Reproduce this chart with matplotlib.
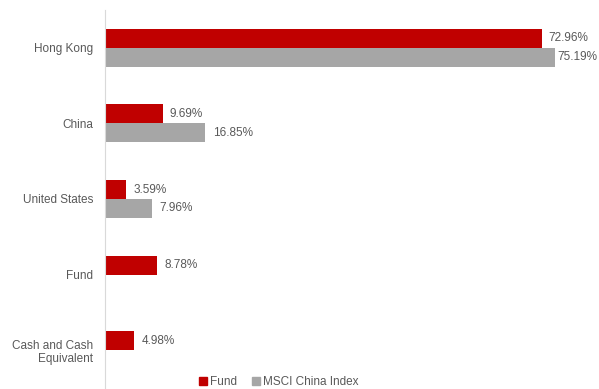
import numpy as np
import matplotlib.pyplot as plt
from matplotlib.patches import Patch

plt.rcParams['font.family'] = ['Liberation Sans', 'DejaVu Sans']

categories = ['Hong Kong', 'China', 'United States', 'Fund', 'Cash and Cash\nEquivalent']
fund = [72.96, 9.69, 3.59, 8.78, 4.98]
msci = [75.19, 16.85, 7.96, None, None]

RED = '#C00000'
GRAY = '#A6A6A6'
TEXT = '#595959'
FS = 8.5
XMAX = (599 - 104.5) / 5.99


def value_label(ax, v, yi):
    # keep the label inside the figure, like the reference does
    if v + 1.2 + 7.2 > XMAX:
        ax.text(XMAX - 0.3, yi, f'{v:.2f}%', va='center', ha='right',
                fontsize=FS, color=TEXT)
    else:
        ax.text(v + 1.2, yi, f'{v:.2f}%', va='center', ha='left',
                fontsize=FS, color=TEXT)


fig = plt.figure(figsize=(5.99, 3.89), dpi=100)
ax = fig.add_axes([104.5 / 599, 1 / 389, 1 - 104.5 / 599, 378 / 389])

y = np.arange(len(categories))
h = 0.25
ax.barh(y - h / 2, fund, height=h, color=RED)
for yi, v in zip(y, fund):
    value_label(ax, v, yi - h / 2)
for yi, v in zip(y, msci):
    if v is None:
        continue
    ax.barh(yi + h / 2, v, height=h, color=GRAY)
    value_label(ax, v, yi + h / 2)

ax.set_ylim(len(categories) - 0.5, -0.5)
ax.set_xlim(0, XMAX)
ax.set_yticks(y)
ax.set_yticklabels(categories, fontsize=FS, color=TEXT, linespacing=1.1)
ax.tick_params(axis='y', length=0, pad=8)
ax.set_xticks([])
for s in ['top', 'right', 'bottom']:
    ax.spines[s].set_visible(False)
ax.spines['left'].set_color('#D9D9D9')
ax.patch.set_alpha(0)

handles = [Patch(color=RED, label='Fund'), Patch(color=GRAY, label='MSCI China Index')]
fig.legend(handles=handles, loc='center', bbox_to_anchor=(279 / 599, 1 - 382 / 389),
           ncol=2, frameon=False, fontsize=FS, labelcolor=TEXT,
           handlelength=0.6, handleheight=0.6, handletextpad=0.3, columnspacing=1.3)

fig.savefig('out.png', dpi=100, facecolor='white')
